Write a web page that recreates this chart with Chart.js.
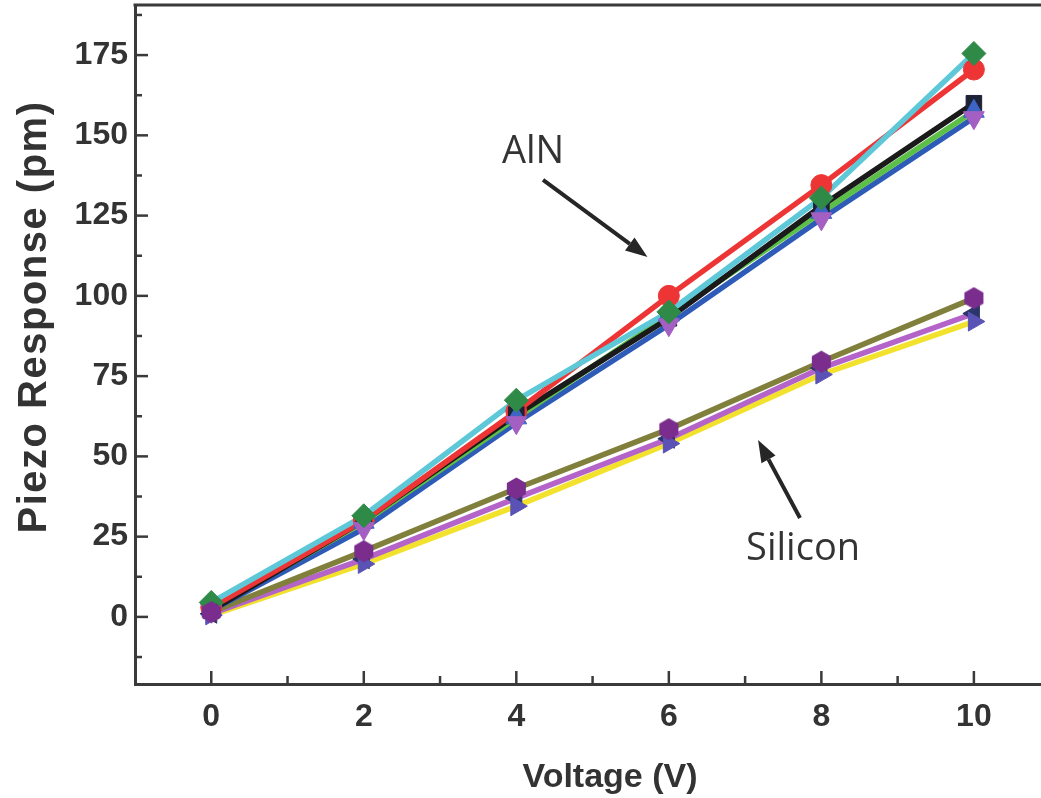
<!DOCTYPE html>
<html>
<head>
<meta charset="utf-8">
<title>Piezo Response vs Voltage</title>
<script src="https://cdn.jsdelivr.net/npm/chart.js@4.4.0/dist/chart.umd.min.js"></script>
<style>
  html, body { margin: 0; padding: 0; background: #ffffff; }
  #wrap { width: 1041px; height: 798px; }
</style>
</head>
<body>
<div id="wrap"><canvas id="chart" width="1041" height="798"></canvas></div>
<script>
// Drive voltage (V)
const voltage = [0, 2, 4, 6, 8, 10];

// AlN samples, piezo response (pm)
const alnBlack = [2, 30, 63, 93, 128, 160];
const alnRed   = [3, 30, 64, 100, 134.5, 170.5];
const alnGreen = [2.5, 29.5, 62, 94, 126, 157.5];
const alnBlue  = [2, 27.5, 60.5, 91, 124, 155.5];
const alnCyan  = [4.5, 31.5, 67.5, 95, 130.5, 175.5];

// Silicon samples, piezo response (pm)
const siOlive  = [1.5, 20.5, 40, 58.5, 79.5, 99.3];
const siViolet = [1, 18, 37, 55.5, 77.5, 94.5];
const siYellow = [0.5, 16.5, 34.5, 54, 75.5, 92];

// Axis tick labels
const xTickValues = [0, 2, 4, 6, 8, 10];
const yTickValues = [0, 25, 50, 75, 100, 125, 150, 175];
const xMinorTicks = [1, 3, 5, 7, 9];
const yMinorTicks = [-12.5, 12.5, 37.5, 62.5, 87.5, 112.5, 137.5, 162.5, 187.5];

const axisColor = '#3a3a3a';
const textColor = '#333333';
const fontFamily = '"Liberation Sans", Arial, sans-serif';

// Hexagon marker drawn to a small canvas
function hexCanvas(color, size) {
  const c = document.createElement('canvas');
  c.width = size; c.height = size;
  const g = c.getContext('2d');
  const cx = size / 2, cy = size / 2, r = size / 2 - 0.5;
  g.fillStyle = color;
  g.beginPath();
  for (let i = 0; i < 6; i++) {
    const a = i * Math.PI / 3 - Math.PI / 2;
    const px = cx + r * Math.cos(a), py = cy + r * Math.sin(a);
    i === 0 ? g.moveTo(px, py) : g.lineTo(px, py);
  }
  g.closePath();
  g.fill();
  return c;
}

const hexMarker = hexCanvas('#7a2d8c', 23);

function toPoints(values) {
  return voltage.map((v, i) => ({ x: v, y: values[i] }));
}

// Listed top-most first
const lineSeries = [
  { values: alnCyan,  color: '#5ec8d8' },
  { values: alnRed,   color: '#ee3535' },
  { values: alnBlack, color: '#1a1a1a' },
  { values: alnGreen, color: '#5cbf48' },
  { values: alnBlue,  color: '#2e5bb8' },
  { values: siOlive,  color: '#80803c' },
  { values: siViolet, color: '#b463c8' },
  { values: siYellow, color: '#f2e22e' }
];

const markerSeries = [
  { values: siOlive,  color: '#7a2d8c', style: hexMarker,  rot: 0,   r: 11 },
  { values: siYellow, color: '#5b52b5', style: 'triangle', rot: 90,  r: 11 },
  { values: siViolet, color: '#2c3569', style: 'triangle', rot: -90, r: 11 },
  { values: alnCyan,  color: '#2f8a48', style: 'rectRot',  rot: 0,   r: 12 },
  { values: alnBlue,  color: '#a35fc2', style: 'triangle', rot: 180, r: 12 },
  { values: alnGreen, color: '#3e64c6', style: 'triangle', rot: 0,   r: 12 },
  { values: alnBlack, color: '#1d2236', style: 'rect',     rot: 0,   r: 11 },
  { values: alnRed,   color: '#ee3535', style: 'circle',   rot: 0,   r: 10.5 }
];

const datasets = [];
markerSeries.forEach(s => {
  datasets.push({
    data: toPoints(s.values),
    showLine: false,
    pointStyle: s.style,
    pointRotation: s.rot,
    pointRadius: s.r,
    pointBackgroundColor: s.color,
    pointBorderColor: s.color,
    pointBorderWidth: 1,
    order: 1
  });
});
lineSeries.forEach(s => {
  datasets.push({
    data: toPoints(s.values),
    showLine: true,
    borderColor: s.color,
    borderWidth: 5.5,
    pointRadius: 0,
    tension: 0,
    order: 2
  });
});

// Text labels and arrows, in data coordinates
const notes = [
  { text: 'AlN', x: 4.22, y: 144.8, from: [4.35, 136.1], to: [5.72, 112.1] },
  { text: 'Silicon', x: 7.76, y: 21.1, from: [7.72, 30.8], to: [7.17, 55.1] }
];

const framePlugin = {
  id: 'frame',
  afterDraw(chart) {
    const { ctx, chartArea: a, scales: { x, y } } = chart;
    ctx.save();
    ctx.strokeStyle = axisColor;
    ctx.lineWidth = 3;
    ctx.lineCap = 'butt';
    ctx.beginPath();
    ctx.moveTo(a.left - 1.5, a.top);
    ctx.lineTo(a.right, a.top);
    ctx.stroke();

    ctx.lineWidth = 2.5;
    const yTick = (v, len) => {
      const py = y.getPixelForValue(v);
      ctx.beginPath(); ctx.moveTo(a.left, py); ctx.lineTo(a.left + len, py); ctx.stroke();
    };
    const xTick = (v, len) => {
      const px = x.getPixelForValue(v);
      ctx.beginPath(); ctx.moveTo(px, a.bottom); ctx.lineTo(px, a.bottom - len); ctx.stroke();
    };
    yTickValues.forEach(v => yTick(v, 13));
    yMinorTicks.forEach(v => yTick(v, 7));
    xTickValues.forEach(v => xTick(v, 13));
    xMinorTicks.forEach(v => xTick(v, 8));

    // Axis titles
    ctx.fillStyle = textColor;
    ctx.font = 'bold 34px ' + fontFamily;
    ctx.textAlign = 'center';
    ctx.textBaseline = 'alphabetic';
    ctx.fillText('Voltage (V)', 610, 787);
    ctx.save();
    ctx.translate(46, 317);
    ctx.rotate(-Math.PI / 2);
    ctx.font = 'bold 40px ' + fontFamily;
    if ('letterSpacing' in ctx) ctx.letterSpacing = '1.5px';
    ctx.fillText('Piezo Response (pm)', 0, 0);
    ctx.restore();

    // Annotations
    ctx.font = '38px "Open Sans", sans-serif';
    ctx.textAlign = 'center';
    ctx.textBaseline = 'middle';
    notes.forEach(n => {
      ctx.fillStyle = textColor;
      ctx.fillText(n.text, x.getPixelForValue(n.x), y.getPixelForValue(n.y));
      const x1 = x.getPixelForValue(n.from[0]), y1 = y.getPixelForValue(n.from[1]);
      const x2 = x.getPixelForValue(n.to[0]), y2 = y.getPixelForValue(n.to[1]);
      const ang = Math.atan2(y2 - y1, x2 - x1);
      const head = 22, half = 8;
      const bx = x2 - head * Math.cos(ang), by = y2 - head * Math.sin(ang);
      ctx.strokeStyle = '#262626';
      ctx.fillStyle = '#262626';
      ctx.lineWidth = 4;
      ctx.beginPath(); ctx.moveTo(x1, y1); ctx.lineTo(bx, by); ctx.stroke();
      ctx.beginPath();
      ctx.moveTo(x2, y2);
      ctx.lineTo(bx + half * Math.sin(ang), by - half * Math.cos(ang));
      ctx.lineTo(bx - half * Math.sin(ang), by + half * Math.cos(ang));
      ctx.closePath();
      ctx.fill();
    });
    ctx.restore();
  }
};

const tickFont = { family: fontFamily, size: 32, weight: 'bold' };

new Chart(document.getElementById('chart'), {
  type: 'scatter',
  data: { datasets },
  plugins: [framePlugin],
  options: {
    responsive: false,
    animation: false,
    layout: { autoPadding: false, padding: { top: 5, right: 0, bottom: 0, left: 0 } },
    plugins: { legend: { display: false }, tooltip: { enabled: false } },
    scales: {
      x: {
        type: 'linear',
        min: -1,
        max: 10.88,
        afterBuildTicks: s => { s.ticks = xTickValues.map(v => ({ value: v })); },
        afterFit: s => { s.height = 114; s.paddingLeft = 0; s.paddingRight = 0; },
        grid: { display: false, drawTicks: false },
        border: { display: true, color: axisColor, width: 3 },
        ticks: { font: tickFont, color: textColor, padding: 14, maxRotation: 0, callback: v => String(v) }
      },
      y: {
        type: 'linear',
        min: -20.9,
        max: 190.6,
        afterBuildTicks: s => { s.ticks = yTickValues.map(v => ({ value: v })); },
        afterFit: s => { s.width = 135; s.paddingTop = 0; s.paddingBottom = 0; },
        grid: { display: false, drawTicks: false },
        border: { display: true, color: axisColor, width: 3 },
        ticks: { font: tickFont, color: textColor, padding: 7, callback: v => String(v) }
      }
    }
  }
});
</script>
</body>
</html>
